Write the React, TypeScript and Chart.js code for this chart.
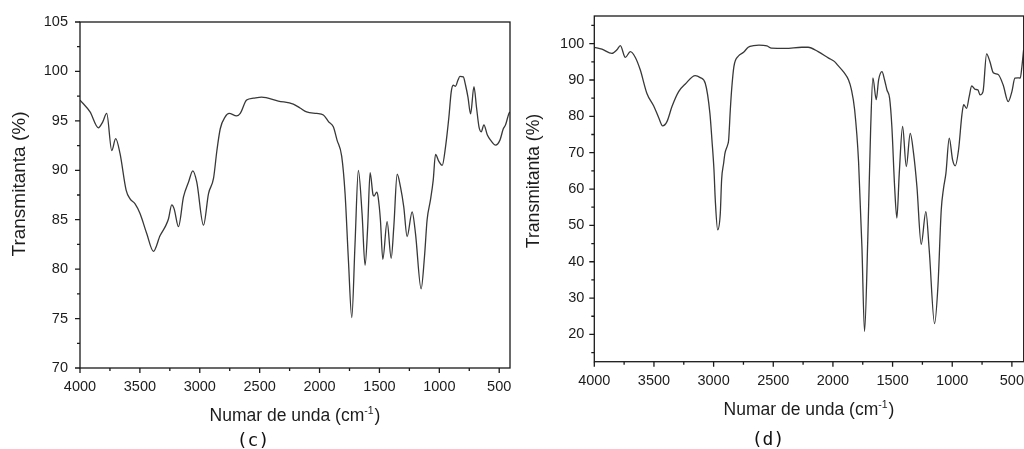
import { useEffect, useRef } from "react";
import { Chart, registerables } from "chart.js";

Chart.register(...registerables);

// ---------- data ----------
const X_TICKS = [4000, 3500, 3000, 2500, 2000, 1500, 1000, 500];
const X_MINOR = [3750, 3250, 2750, 2250, 1750, 1250, 750];

const C_Y_TICKS = [70, 75, 80, 85, 90, 95, 100, 105];
const C_Y_MINOR = [72.5, 77.5, 82.5, 87.5, 92.5, 97.5, 102.5];
const D_Y_TICKS = [20, 30, 40, 50, 60, 70, 80, 90, 100];
const D_Y_MINOR = [15, 25, 35, 45, 55, 65, 75, 85, 95, 105];

const C_WN = [
  4000, 3916, 3847, 3810, 3777, 3735, 3702, 3666, 3615, 3582, 3540, 3498, 3443, 3387,
  3331, 3284, 3261, 3234, 3214, 3178, 3136, 3094, 3058, 3025, 2969, 2927, 2885, 2857,
  2829, 2788, 2755, 2693, 2662, 2609, 2551, 2484, 2344, 2219, 2163, 2108, 2024, 1968,
  1924, 1885, 1854, 1815, 1787, 1759, 1731, 1704, 1676, 1645, 1620, 1598, 1578, 1553,
  1545, 1522, 1511, 1492, 1472, 1436, 1402, 1380, 1352, 1324, 1297, 1269, 1227, 1199,
  1152, 1124, 1102, 1074, 1051, 1032, 1004, 976, 948, 920, 901, 884, 865, 845, 828, 800,
  781, 761, 739, 711, 689, 669, 650, 628, 600, 572, 530, 494, 466, 447, 419, 410,
];
const C_T = [
  97.1, 95.9, 94.3, 94.9, 95.75, 92.0, 93.2, 91.7, 88.0, 87.1, 86.6, 85.6, 83.6, 81.8,
  83.4, 84.4, 85.1, 86.5, 86.1, 84.3, 87.3, 88.8, 89.95, 88.8, 84.45, 87.65, 89.2, 92.0,
  94.2, 95.4, 95.75, 95.5, 95.75, 97.1, 97.3, 97.4, 97.0, 96.7, 96.3, 95.9, 95.75, 95.6,
  94.9, 94.4, 93.05, 91.4, 87.65, 80.9, 75.1, 82.5, 90.0, 85.6, 80.4, 84.3, 89.75, 87.5,
  87.4, 87.8, 87.3, 85.0, 81.0, 84.8, 81.1, 84.3, 89.6, 88.3, 86.3, 83.3, 85.8, 83.6,
  78.0, 81.25, 85.0, 87.0, 89.0, 91.6, 90.9, 90.5, 92.4, 95.4, 97.9, 98.6, 98.5, 99.1,
  99.5, 99.45, 98.6, 97.4, 95.7, 98.45, 96.3, 94.4, 93.9, 94.6, 93.6, 93.05, 92.55,
  93.05, 94.2, 94.6, 95.75, 95.9,
];

const D_WN = [
  4000, 3936, 3852, 3810, 3782, 3740, 3698, 3656, 3615, 3559, 3503, 3461, 3427, 3391,
  3349, 3293, 3237, 3154, 3112, 3070, 3031, 3014, 2997, 2986, 2966, 2944, 2933, 2916,
  2905, 2883, 2874, 2860, 2849, 2830, 2792, 2749, 2710, 2665, 2620, 2553, 2515, 2399,
  2260, 2208, 2124, 2036, 1986, 1966, 1906, 1869, 1846, 1818, 1785, 1757, 1735, 1708,
  1684, 1665, 1637, 1617, 1589, 1567, 1547, 1525, 1506, 1483, 1464, 1444, 1416, 1385,
  1352, 1324, 1296, 1260, 1221, 1193, 1148, 1120, 1092, 1073, 1053, 1025, 997, 975, 947,
  919, 904, 880, 858, 837, 807, 785, 767, 742, 712, 684, 656, 615, 573, 531, 500, 475,
  450, 430, 416, 402,
];
const D_T = [
  99.0, 98.5, 97.3, 98.3, 99.45, 96.2, 97.8, 96.2, 92.8, 86.3, 82.9, 79.7, 77.4, 78.55,
  82.7, 86.8, 88.9, 91.2, 90.65, 89.1, 80.8, 73.5, 65.3, 57.0, 48.8, 53.3, 62.5, 67.1,
  69.8, 72.1, 73.5, 81.8, 87.3, 93.7, 96.6, 97.6, 99.0, 99.45, 99.6, 99.35, 98.75, 98.7,
  99.0, 99.0, 97.8, 96.0, 95.05, 94.3, 92.0, 90.0, 87.5, 81.8, 67.5, 44.2, 20.8, 46.0,
  76.3, 90.6, 84.6, 90.0, 92.3, 90.0, 87.25, 85.0, 77.2, 60.7, 52.0, 64.3, 77.2, 66.2,
  75.3, 69.8, 60.7, 44.8, 53.8, 43.3, 23.0, 33.2, 54.3, 60.2, 64.3, 74.0, 68.0, 66.4,
  70.8, 80.4, 83.2, 82.2, 85.4, 88.35, 87.4, 87.3, 85.9, 86.8, 97.2, 95.0, 92.0, 91.5,
  88.6, 84.05, 86.8, 90.5, 90.6, 90.5, 93.7, 98.3,
];

const Y_TITLE = "Transmitanta (%)";
const X_TITLE_MAIN = "Numar de unda (cm";
const X_TITLE_SUP = "-1";
const X_TITLE_END = ")";

// ---------- layout ----------
const W = 512;
const H = 449;
const FONT = "'Liberation Sans', Arial, sans-serif";
const TEXT = "#1c1c1c";
const LINE = "#383838";

type Panel = {
  wn: number[];
  t: number[];
  xMin: number;
  xMax: number;
  yMin: number;
  yMax: number;
  yTicks: number[];
  yMinor: number[];
  area: { left: number; top: number; right: number; bottom: number };
  yPad: number;
  xPad: number;
  yTitle: { x: number; y: number; size: number };
  xTitle: { x: number; y: number; size: number };
  label: { text: string; x: number; y: number };
};

const PANELS: Panel[] = [
  {
    wn: C_WN,
    t: C_T,
    xMin: 410,
    xMax: 4000,
    yMin: 70,
    yMax: 105,
    yTicks: C_Y_TICKS,
    yMinor: C_Y_MINOR,
    area: { left: 80, top: 22, right: 510, bottom: 368 },
    yPad: 12,
    xPad: 10.5,
    yTitle: { x: 25, y: 184, size: 19 },
    xTitle: { x: 295, y: 421, size: 17.5 },
    label: { text: "(c)", x: 253, y: 446 },
  },
  {
    wn: D_WN,
    t: D_T,
    xMin: 401,
    xMax: 4000,
    yMin: 12.5,
    yMax: 107.6,
    yTicks: D_Y_TICKS,
    yMinor: D_Y_MINOR,
    area: { left: 82.3, top: 16, right: 511.7, bottom: 361.7 },
    yPad: 10,
    xPad: 10.5,
    yTitle: { x: 27, y: 181, size: 17.6 },
    xTitle: { x: 297, y: 415, size: 17.5 },
    label: { text: "(d)", x: 256, y: 445 },
  },
];

const XH = 40;

function makeFramePlugin(p: Panel) {
  return {
    id: "frame",
    afterDraw(chart: any) {
      const { ctx, chartArea } = chart;
      const { left, top, right, bottom } = chartArea;
      const xs = chart.scales.x;
      const ys = chart.scales.y;
      ctx.save();
      ctx.strokeStyle = "#1a1a1a";
      ctx.lineWidth = 1.3;
      ctx.strokeRect(left, top, right - left, bottom - top);
      ctx.beginPath();
      X_TICKS.forEach((v) => {
        const px = xs.getPixelForValue(v);
        ctx.moveTo(px, bottom);
        ctx.lineTo(px, bottom + 5);
      });
      X_MINOR.forEach((v) => {
        const px = xs.getPixelForValue(v);
        ctx.moveTo(px, bottom);
        ctx.lineTo(px, bottom + 3);
      });
      p.yTicks.forEach((v) => {
        const py = ys.getPixelForValue(v);
        ctx.moveTo(left, py);
        ctx.lineTo(left - 5, py);
      });
      p.yMinor.forEach((v) => {
        const py = ys.getPixelForValue(v);
        ctx.moveTo(left, py);
        ctx.lineTo(left - 3, py);
      });
      ctx.stroke();

      ctx.fillStyle = TEXT;
      ctx.textBaseline = "alphabetic";
      // y title
      ctx.save();
      ctx.translate(p.yTitle.x, p.yTitle.y);
      ctx.rotate(-Math.PI / 2);
      ctx.font = `${p.yTitle.size}px ${FONT}`;
      ctx.textAlign = "center";
      ctx.fillText(Y_TITLE, 0, 0);
      ctx.restore();

      // x title with superscript
      const s = p.xTitle.size;
      const mainFont = `${s}px ${FONT}`;
      const supFont = `${s * 0.6}px ${FONT}`;
      ctx.textAlign = "left";
      ctx.font = mainFont;
      const wa = ctx.measureText(X_TITLE_MAIN).width;
      const wb = ctx.measureText(X_TITLE_END).width;
      ctx.font = supFont;
      const ws = ctx.measureText(X_TITLE_SUP).width;
      const total = wa + ws + wb + 1;
      let sx = p.xTitle.x - total / 2;
      ctx.font = mainFont;
      ctx.fillText(X_TITLE_MAIN, sx, p.xTitle.y);
      sx += wa;
      ctx.font = supFont;
      ctx.fillText(X_TITLE_SUP, sx, p.xTitle.y - s * 0.42);
      sx += ws + 1;
      ctx.font = mainFont;
      ctx.fillText(X_TITLE_END, sx, p.xTitle.y);

      // panel label
      ctx.fillStyle = "#111";
      ctx.font = `18px 'DejaVu Sans Mono', monospace`;
      ctx.textAlign = "center";
      ctx.fillText(p.label.text, p.label.x, p.label.y);
      ctx.restore();
    },
  };
}

function PanelChart({ p, left }: { p: Panel; left: number }) {
  const ref = useRef<HTMLCanvasElement | null>(null);
  useEffect(() => {
    if (!ref.current) return;
    const tickFont = { family: FONT, size: 14.5 };
    const chart = new Chart(ref.current, {
      type: "line",
      data: {
        datasets: [
          {
            data: p.wn.map((x, i) => ({ x, y: p.t[i] })),
            borderColor: LINE,
            borderWidth: 1.3,
            pointRadius: 0,
            fill: false,
            cubicInterpolationMode: "monotone",
          },
        ],
      },
      options: {
        animation: false,
        responsive: false,
        maintainAspectRatio: false,
        layout: {
          padding: {
            left: 0,
            top: p.area.top,
            right: W - p.area.right,
            bottom: H - p.area.bottom - XH,
          },
        },
        plugins: { legend: { display: false }, tooltip: { enabled: false } },
        scales: {
          x: {
            type: "linear",
            reverse: true,
            min: p.xMin,
            max: p.xMax,
            grid: { display: false, drawTicks: false },
            border: { display: false },
            ticks: {
              padding: p.xPad,
              color: TEXT,
              font: tickFont,
              maxRotation: 0,
              autoSkip: false,
              callback: (v: any) => String(v),
            },
            afterBuildTicks: (s: any) => {
              s.ticks = X_TICKS.map((v) => ({ value: v }));
            },
            afterFit: (s: any) => {
              s.height = XH;
              s.paddingLeft = 0;
              s.paddingRight = 0;
            },
          },
          y: {
            type: "linear",
            min: p.yMin,
            max: p.yMax,
            grid: { display: false, drawTicks: false },
            border: { display: false },
            ticks: {
              padding: p.yPad,
              color: TEXT,
              font: tickFont,
              autoSkip: false,
              callback: (v: any) => String(v),
            },
            afterBuildTicks: (s: any) => {
              s.ticks = p.yTicks.map((v) => ({ value: v }));
            },
            afterFit: (s: any) => {
              s.width = p.area.left;
              s.paddingTop = 0;
              s.paddingBottom = 0;
            },
          },
        },
      },
      plugins: [makeFramePlugin(p)],
    } as any);
    return () => chart.destroy();
  }, [p]);
  return (
    <canvas
      ref={ref}
      width={W}
      height={H}
      style={{ position: "absolute", left, top: 0, width: W, height: H }}
    />
  );
}

export default function App() {
  return (
    <div
      style={{
        position: "fixed",
        left: 0,
        top: 0,
        width: 1024,
        height: 449,
        background: "#fff",
        overflow: "hidden",
      }}
    >
      <PanelChart p={PANELS[0]} left={0} />
      <PanelChart p={PANELS[1]} left={512} />
    </div>
  );
}
